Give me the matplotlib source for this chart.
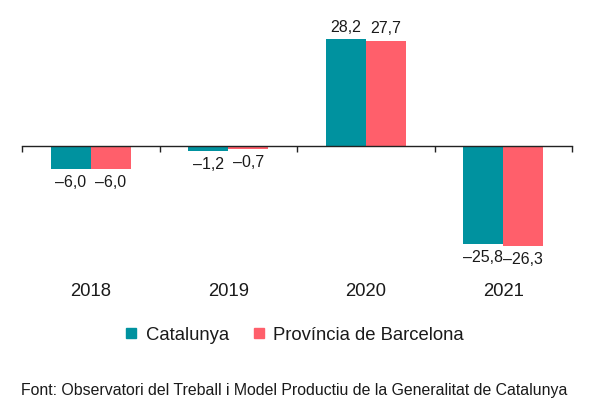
import numpy as np
import matplotlib
matplotlib.use("Agg")
import matplotlib.pyplot as plt
from matplotlib.lines import Line2D

# ------------------------
# Data
# ------------------------
years = ["2018", "2019", "2020", "2021"]
catalunya = [-6.0, -1.2, 28.2, -25.8]
barcelona = [-6.0, -0.7, 27.7, -26.3]
series_names = ["Catalunya", "Província de Barcelona"]
source_text = "Font: Observatori del Treball i Model Productiu de la Generalitat de Catalunya"

TEAL = "#00929f"
PINK = "#ff5f6b"

plt.rcParams["font.family"] = ["Liberation Sans", "DejaVu Sans"]


def fmt(v):
    s = f"{abs(v):.1f}".replace(".", ",")
    return ("\u2013" + s) if v < 0 else s


# ------------------------
# Figure
# ------------------------
fig = plt.figure(figsize=(5.92, 4.11), dpi=100)
W, H = 592, 411
ax = fig.add_axes([22 / W, 1 - 262 / H, 550 / W, 232 / H])

x = np.arange(len(years))
bw = 0.29
ax.bar(x - bw / 2, catalunya, bw, color=TEAL, zorder=2)
ax.bar(x + bw / 2, barcelona, bw, color=PINK, zorder=2)

for xi, a, b in zip(x, catalunya, barcelona):
    for xx, v in ((xi - bw / 2, a), (xi + bw / 2, b)):
        ax.annotate(fmt(v), (xx, v), xytext=(0, 3 if v > 0 else -4.5),
                    textcoords="offset points", ha="center",
                    va="bottom" if v > 0 else "top", fontsize=11.5,
                    color="#1a1a1a")

ax.set_xlim(-0.5, len(years) - 0.5)
ax.set_ylim(-30.5, 30.5)
for s in ["top", "right", "left"]:
    ax.spines[s].set_visible(False)
ax.spines["bottom"].set_position(("data", 0))
ax.spines["bottom"].set_color("#222222")
ax.spines["bottom"].set_linewidth(1.0)
ax.set_yticks([])
ax.set_xticks(np.arange(-0.5, len(years), 1.0))
ax.set_xticklabels([])
ax.tick_params(axis="x", direction="out", length=4, width=1, color="#222222")

for xi, yr in zip(x, years):
    ax.text(xi, -0.128, yr, transform=ax.get_xaxis_transform(), ha="center",
            va="center", fontsize=13.3, color="#1a1a1a")

handles = [Line2D([], [], marker="s", linestyle="none", markersize=7.5,
                  color=c) for c in (TEAL, PINK)]
fig.legend(handles, series_names, loc="center", bbox_to_anchor=(0.495, 1 - 335 / H),
           ncol=2, frameon=False, fontsize=13.3, handletextpad=0.3,
           columnspacing=1.1, handlelength=1.0, labelcolor="#1a1a1a")

fig.text(0.497, 1 - 390 / H, source_text, ha="center", va="center",
         fontsize=11.4, color="#1a1a1a")

fig.savefig("out.png", dpi=100)
